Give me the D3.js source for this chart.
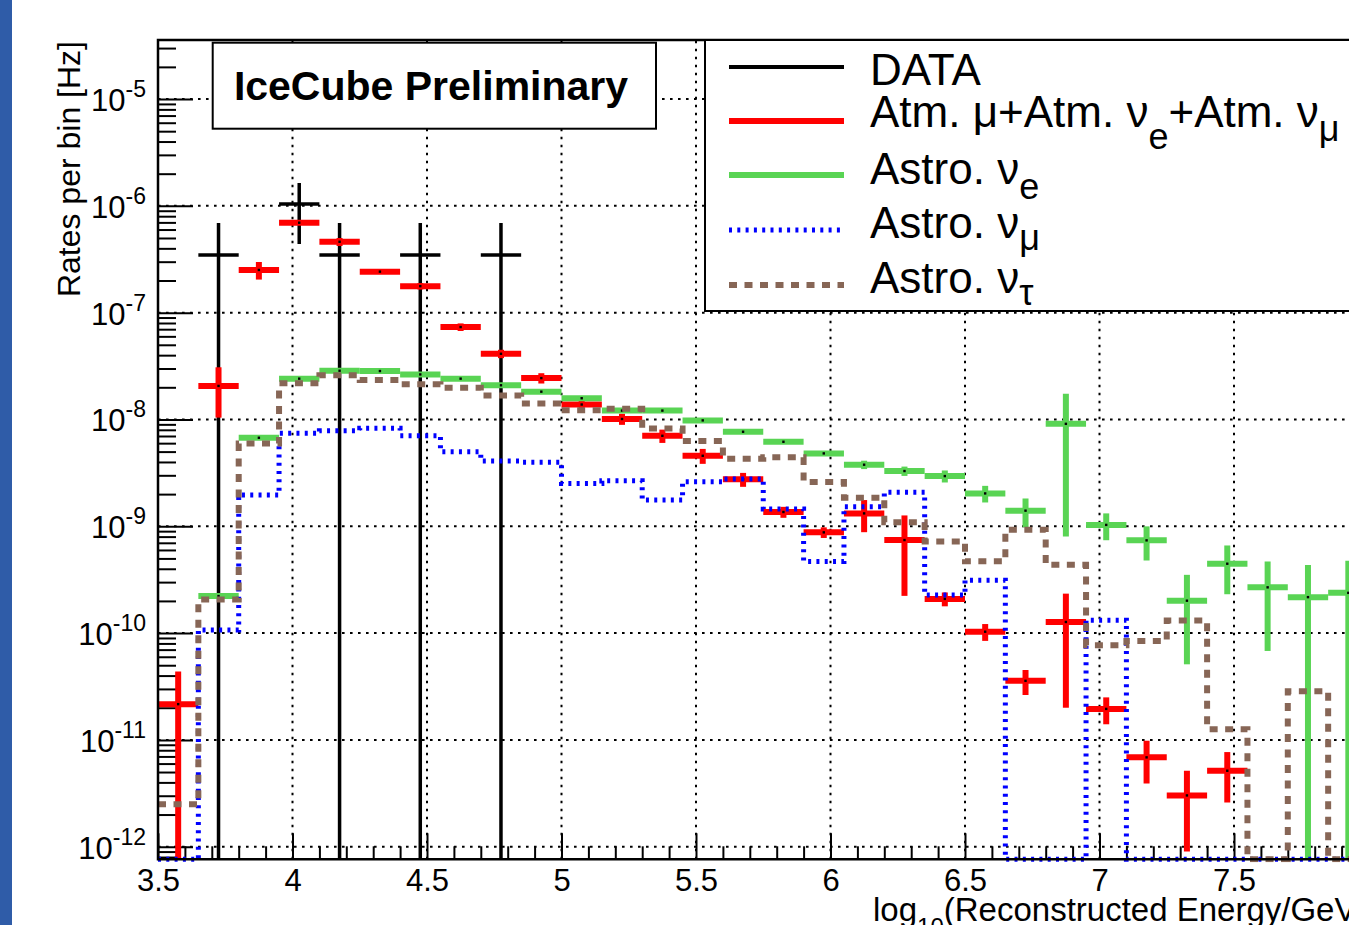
<!DOCTYPE html>
<html>
<head>
<meta charset="utf-8">
<script src="https://cdn.jsdelivr.net/npm/d3@7"></script>
<style>
  html, body { margin: 0; padding: 0; background: #fff; overflow: hidden; }
  svg { display: block; font-family: "Liberation Sans", Arial, sans-serif; }
</style>
</head>
<body>
<svg id="chart"></svg>
<script>
// bins in log10(E/GeV), width 0.15
const binCenters = [3.575, 3.725, 3.875, 4.025, 4.175, 4.325, 4.475, 4.625, 4.775, 4.925,
  5.075, 5.225, 5.375, 5.525, 5.675, 5.825, 5.975, 6.125, 6.275, 6.425,
  6.575, 6.725, 6.875, 7.025, 7.175, 7.325, 7.475, 7.625, 7.775, 7.925];
const binWidth = 0.15;

const dataRate = [0, 3.46e-7, 0, 1.04e-6, 3.46e-7, 0, 3.46e-7, 0, 3.46e-7, 0,
  0, 0, 0, 0, 0, 0, 0, 0, 0, 0,
  0, 0, 0, 0, 0, 0, 0, 0, 0, 0];
const dataErr = [0, 3.46e-7, 0, 6.0e-7, 3.46e-7, 0, 3.46e-7, 0, 3.46e-7, 0,
  0, 0, 0, 0, 0, 0, 0, 0, 0, 0,
  0, 0, 0, 0, 0, 0, 0, 0, 0, 0];

const atmRate = [2.16e-11, 2.06e-8, 2.51e-7, 6.95e-7, 4.61e-7, 2.42e-7, 1.77e-7, 7.33e-8, 4.12e-8, 2.44e-8,
  1.38e-8, 1.01e-8, 7.03e-9, 4.57e-9, 2.75e-9, 1.36e-9, 8.77e-10, 1.32e-9, 7.43e-10, 2.09e-10,
  1.03e-10, 3.57e-11, 1.27e-10, 1.95e-11, 6.86e-12, 3.02e-12, 5.14e-12, 0, 0, 0];
const atmErr = [2.2e-11, 1.02e-8, 4.7e-8, 2e-8, 4e-8, 8e-9, 1.2e-8, 6e-9, 3.7e-9, 2.7e-9,
  1.5e-9, 1.2e-9, 1.0e-9, 7.3e-10, 4.1e-10, 1.6e-10, 1.0e-10, 4.4e-10, 5.2e-10, 3.1e-11,
  1.85e-11, 9.4e-12, 1.07e-10, 5.5e-12, 2.96e-12, 2.12e-12, 2.55e-12, 0, 0, 0];

const astroERate = [0, 2.22e-10, 6.74e-9, 2.41e-8, 2.86e-8, 2.84e-8, 2.64e-8, 2.41e-8, 2.09e-8, 1.82e-8,
  1.58e-8, 1.21e-8, 1.21e-8, 9.8e-9, 7.67e-9, 6.18e-9, 4.81e-9, 3.77e-9, 3.29e-9, 2.95e-9,
  2.03e-9, 1.4e-9, 9.1e-9, 1.03e-9, 7.38e-10, 2.01e-10, 4.46e-10, 2.68e-10, 2.17e-10, 2.38e-10];
const astroEErr = [0, 7e-12, 1.5e-10, 4e-10, 4.5e-10, 4.5e-10, 4.5e-10, 4.2e-10, 4e-10, 3.8e-10,
  3.6e-10, 3.1e-10, 3.1e-10, 2.8e-10, 2.5e-10, 2.3e-10, 2.1e-10, 3.4e-10, 3.3e-10, 3.8e-10,
  3.6e-10, 4.2e-10, 8.3e-9, 2.9e-10, 2.6e-10, 1.5e-10, 2.15e-10, 2e-10, 2.17e-10, 2.38e-10];

const astroMuRate = [0, 1.07e-10, 1.96e-9, 7.41e-9, 7.84e-9, 8.26e-9, 7.05e-9, 4.99e-9, 4.08e-9, 3.97e-9,
  2.52e-9, 2.67e-9, 1.76e-9, 2.61e-9, 2.77e-9, 1.45e-9, 4.69e-10, 1.52e-9, 2.08e-9, 2.27e-10,
  3.13e-10, 0, 0, 1.32e-10, 0, 0, 0, 0, 0, 0];

const astroTauRate = [2.49e-12, 2.06e-10, 5.97e-9, 2.18e-8, 2.6e-8, 2.34e-8, 2.14e-8, 1.98e-8, 1.68e-8, 1.41e-8,
  1.22e-8, 1.26e-8, 8.24e-9, 6.28e-9, 4.29e-9, 4.42e-9, 2.6e-9, 1.85e-9, 1.09e-9, 7.22e-10,
  4.7e-10, 9.27e-10, 4.36e-10, 7.7e-11, 8.41e-11, 1.31e-10, 1.26e-11, 0, 2.86e-11, 0];

const xMajorTicks = [3.5, 4, 4.5, 5, 5.5, 6, 6.5, 7, 7.5, 8];
const yDecadeExp = [-12, -11, -10, -9, -8, -7, -6, -5];

const W = 1349, H = 925;
const plotLeft = 158, plotTop = 40, plotBottom = 859.3, plotRight = 1368.5;
const yMin = 7.62e-13, yMax = 3.57e-5;

const x = d3.scaleLinear().domain([3.5, 8.0]).range([plotLeft, plotRight]);
const y = d3.scaleLog().domain([yMin, yMax]).range([plotBottom, plotTop]);
const yc = v => (v > yMin ? y(v) : plotBottom);

const svg = d3.select("#chart").attr("width", W).attr("height", H);
svg.append("rect").attr("width", W).attr("height", H).attr("fill", "#fff");
svg.append("rect").attr("width", 12).attr("height", H).attr("fill", "#2f5ca8");

svg.append("clipPath").attr("id", "plot")
  .append("rect").attr("x", plotLeft).attr("y", plotTop - 2)
  .attr("width", plotRight - plotLeft).attr("height", plotBottom - plotTop + 5);

// grid
const grid = svg.append("g").attr("stroke", "#000").attr("stroke-width", 2).attr("stroke-dasharray", "2.6 5.4");
grid.selectAll("line.gx").data(xMajorTicks.slice(1)).join("line").attr("class", "gx")
  .attr("x1", d => x(d)).attr("x2", d => x(d)).attr("y1", plotBottom).attr("y2", plotTop);
grid.selectAll("line.gy").data(yDecadeExp).join("line").attr("class", "gy")
  .attr("x1", plotLeft).attr("x2", plotRight)
  .attr("y1", d => y(Math.pow(10, d))).attr("y2", d => y(Math.pow(10, d)));

// axes ticks
const xMinor = x.ticks(45).filter(t => Math.abs(t * 2 - Math.round(t * 2)) > 1e-6);
const xAxisMajor = svg.append("g").attr("transform", `translate(0,${plotBottom})`)
  .call(d3.axisBottom(x).tickValues(xMajorTicks).tickSize(-26).tickFormat(d => String(d)));
xAxisMajor.select(".domain").remove();
xAxisMajor.selectAll("line").attr("stroke", "#000").attr("stroke-width", 2);
xAxisMajor.selectAll("text").attr("y", 32).attr("dy", null)
  .attr("font-size", 31).attr("font-family", "Liberation Sans, Arial, sans-serif").attr("fill", "#000");
const xAxisMinor = svg.append("g").attr("transform", `translate(0,${plotBottom})`)
  .call(d3.axisBottom(x).tickValues(xMinor).tickSize(-13).tickFormat(""));
xAxisMinor.select(".domain").remove();
xAxisMinor.selectAll("line").attr("stroke", "#000").attr("stroke-width", 2);

const yDecades = yDecadeExp.map(e => Math.pow(10, e));
const yMinor = y.ticks().filter(t => Math.abs(Math.log10(t) - Math.round(Math.log10(t))) > 1e-6);
const yAxisMajor = svg.append("g").attr("transform", `translate(${plotLeft},0)`)
  .call(d3.axisLeft(y).tickValues(yDecades).tickSize(-35).tickFormat(""));
yAxisMajor.select(".domain").remove();
yAxisMajor.selectAll("line").attr("stroke", "#000").attr("stroke-width", 2);
const yAxisMinor = svg.append("g").attr("transform", `translate(${plotLeft},0)`)
  .call(d3.axisLeft(y).tickValues(yMinor).tickSize(-18).tickFormat(""));
yAxisMinor.select(".domain").remove();
yAxisMinor.selectAll("line").attr("stroke", "#000").attr("stroke-width", 2);

const yLabels = svg.append("g").attr("font-size", 31).attr("text-anchor", "end");
yLabels.selectAll("text").data(yDecadeExp).join("text")
  .attr("x", 146).attr("y", d => y(Math.pow(10, d)) + 12)
  .each(function (d) {
    const t = d3.select(this);
    t.append("tspan").text("10");
    t.append("tspan").attr("dy", -14).attr("font-size", 23).text(String(d));
  });

// plot marks
const plot = svg.append("g").attr("clip-path", "url(#plot)");

function drawCrosses(vals, errs, color, width, markers) {
  const idx = vals.map((v, i) => i).filter(i => vals[i] > 0);
  const g = plot.append("g").attr("stroke", color).attr("stroke-width", width);
  g.selectAll("line.h").data(idx).join("line").attr("class", "h")
    .attr("x1", i => x(binCenters[i] - binWidth / 2)).attr("x2", i => x(binCenters[i] + binWidth / 2))
    .attr("y1", i => yc(vals[i])).attr("y2", i => yc(vals[i]));
  g.selectAll("line.v").data(idx).join("line").attr("class", "v")
    .attr("x1", i => x(binCenters[i])).attr("x2", i => x(binCenters[i]))
    .attr("y1", i => yc(vals[i] + errs[i])).attr("y2", i => yc(vals[i] - errs[i]));
  if (markers) {
    plot.append("g").selectAll("rect").data(idx).join("rect")
      .attr("x", i => x(binCenters[i]) - 1.2).attr("y", i => yc(vals[i]) - 1.2)
      .attr("width", 2.4).attr("height", 2.4).attr("fill", "#000");
  }
}

function stepPoints(vals) {
  const pts = [];
  vals.forEach((v, i) => {
    pts.push([binCenters[i] - binWidth / 2, v], [binCenters[i] + binWidth / 2, v]);
  });
  return pts;
}
const step = d3.line().x(d => x(d[0])).y(d => yc(d[1]));

drawCrosses(dataRate, dataErr, "#000", 3.5, false);
drawCrosses(atmRate, atmErr, "#ff0000", 6, true);
drawCrosses(astroERate, astroEErr, "#59d454", 6, true);

plot.append("path").attr("d", step(stepPoints(astroMuRate)))
  .attr("fill", "none").attr("stroke", "#0000ff").attr("stroke-width", 5).attr("stroke-dasharray", "3 5.3");
plot.append("path").attr("d", step(stepPoints(astroTauRate)))
  .attr("fill", "none").attr("stroke", "#876656").attr("stroke-width", 6).attr("stroke-dasharray", "8 7.5");

// frame
svg.append("path").attr("d", `M${plotRight},${plotTop}H${plotLeft}V${plotBottom}H${plotRight}`)
  .attr("fill", "none").attr("stroke", "#000").attr("stroke-width", 2.5);

// axis titles
svg.append("text").attr("transform", `translate(80,41) rotate(-90)`)
  .attr("text-anchor", "end").attr("font-size", 32).text("Rates per bin [Hz]");

const xTitle = svg.append("text").attr("x", 873).attr("y", 921).attr("font-size", 33);
xTitle.append("tspan").text("log");
xTitle.append("tspan").attr("dy", 14).attr("font-size", 24).text("10");
xTitle.append("tspan").attr("dy", -14).text("(Reconstructed Energy/GeV)");

// IceCube box
svg.append("rect").attr("x", 212.7).attr("y", 42.7).attr("width", 443.3).attr("height", 86)
  .attr("fill", "#fff").attr("stroke", "#000").attr("stroke-width", 2);
svg.append("text").attr("x", 431).attr("y", 100).attr("text-anchor", "middle")
  .attr("font-size", 41).attr("font-weight", "bold").text("IceCube Preliminary");

// legend
const legendItems = [
  { y: 67, base: 85, color: "#000", width: 4, dash: null,
    parts: [["DATA", 0]] },
  { y: 121, base: 127, color: "#ff0000", width: 6, dash: null,
    parts: [["Atm. μ+Atm. ν", 0], ["e", 22], ["+Atm. ν", 0], ["μ", 14]] },
  { y: 175, base: 184, color: "#59d454", width: 6, dash: null,
    parts: [["Astro. ν", 0], ["e", 15]] },
  { y: 230, base: 238, color: "#0000ff", width: 5, dash: "3 5.3",
    parts: [["Astro. ν", 0], ["μ", 12]] },
  { y: 285, base: 293, color: "#876656", width: 6, dash: "8 7.5",
    parts: [["Astro. ν", 0], ["τ", 12]] }
];
const legend = svg.append("g");
legend.append("rect").attr("x", 705).attr("y", 40).attr("width", 720).attr("height", 271)
  .attr("fill", "#fff").attr("stroke", "#000").attr("stroke-width", 2);
legend.selectAll("line").data(legendItems).join("line")
  .attr("x1", 729).attr("x2", 844).attr("y1", d => d.y).attr("y2", d => d.y)
  .attr("stroke", d => d.color).attr("stroke-width", d => d.width)
  .attr("stroke-dasharray", d => d.dash);
legend.selectAll("text").data(legendItems).join("text")
  .attr("x", 870).attr("y", d => d.base).attr("font-size", 44)
  .each(function (d) {
    const t = d3.select(this);
    let shift = 0;
    d.parts.forEach(([s, sub]) => {
      t.append("tspan").attr("dy", sub - shift).attr("font-size", sub ? 36 : 44).text(s);
      shift = sub;
    });
  });
</script>
</body>
</html>
